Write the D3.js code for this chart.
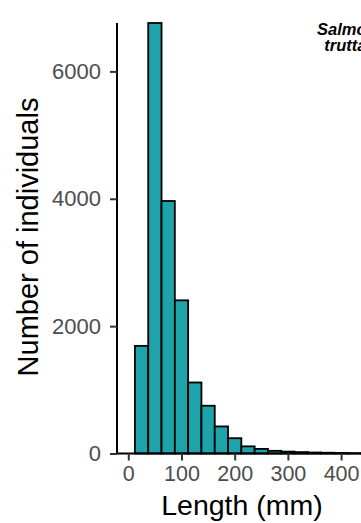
<!DOCTYPE html>
<html>
<head>
<meta charset="utf-8">
<script src="https://cdn.jsdelivr.net/npm/d3@7/dist/d3.min.js"></script>
<style>
  html, body { margin: 0; padding: 0; background: #fff; overflow: hidden; }
  svg { display: block; }
  text { font-family: "Liberation Sans", Arial, sans-serif; }
</style>
</head>
<body>
<svg id="chart" width="361" height="523"></svg>
<script>
// Length-frequency histogram, 25 mm bins
const binStart = [12.5, 37.5, 62.5, 87.5, 112.5, 137.5, 162.5, 187.5, 212.5, 237.5,
                  262.5, 287.5, 312.5, 337.5, 362.5, 387.5, 412.5, 437.5, 462.5];
const binWidth = 25;
const counts   = [1690, 6760, 3965, 2405, 1115, 750, 425, 240, 112, 72,
                  42, 30, 22, 16, 12, 8, 5, 3, 2];
const xTicks = [0, 100, 200, 300, 400];
const yTicks = [0, 2000, 4000, 6000];
const speciesLines = ["Salmo", "trutta"];

const svg = d3.select("#chart");
const W = 361, H = 523;

const x = d3.scaleLinear().domain([-21.2, 437.4]).range([117, 361]);
const y = d3.scaleLinear().domain([0, 6760]).range([453.5, 23]);

// bars
svg.append("g")
  .selectAll("rect")
  .data(counts)
  .join("rect")
  .attr("x", (d, i) => x(binStart[i]))
  .attr("width", (d, i) => x(binStart[i] + binWidth) - x(binStart[i]))
  .attr("y", d => y(d))
  .attr("height", d => y(0) - y(d))
  .attr("fill", "#1fa3ab")
  .attr("stroke", "#000")
  .attr("stroke-width", 1.8);

// y axis
const yAxis = svg.append("g")
  .attr("transform", `translate(${x.range()[0]},0)`)
  .call(d3.axisLeft(y).tickValues(yTicks).tickSize(7).tickPadding(9).tickFormat(d3.format("d")));
yAxis.select(".domain").attr("d", `M0,${y(0)}V${y.range()[1]}`).attr("stroke", "#000").attr("stroke-width", 2);
yAxis.selectAll(".tick line").attr("stroke", "#333").attr("stroke-width", 2);
yAxis.selectAll(".tick text").attr("fill", "#4d4d4d").attr("font-size", 22)
  .attr("font-family", "Liberation Sans, Arial, sans-serif");

// x axis
const xAxis = svg.append("g")
  .attr("transform", `translate(0,${y(0)})`)
  .call(d3.axisBottom(x).tickValues(xTicks).tickSize(7).tickPadding(5).tickFormat(d3.format("d")));
xAxis.select(".domain").attr("d", `M${x.range()[0]},0H${W + 5}`).attr("stroke", "#000").attr("stroke-width", 2);
xAxis.selectAll(".tick line").attr("stroke", "#333").attr("stroke-width", 2);
xAxis.selectAll(".tick text").attr("fill", "#4d4d4d").attr("font-size", 21.5)
  .attr("font-family", "Liberation Sans, Arial, sans-serif");

// axis titles
svg.append("text")
  .attr("x", 242).attr("y", 515)
  .attr("text-anchor", "middle")
  .attr("font-size", 28.5)
  .attr("fill", "#000")
  .text("Length (mm)");

svg.append("text")
  .attr("transform", "translate(38,237) rotate(-90)")
  .attr("text-anchor", "middle")
  .attr("font-size", 29)
  .attr("fill", "#000")
  .text("Number of individuals");

// species label
const lab = svg.append("text")
  .attr("text-anchor", "end")
  .attr("font-size", 16.5)
  .attr("font-style", "italic")
  .attr("font-weight", "bold")
  .attr("fill", "#000");
speciesLines.forEach((t, i) => {
  lab.append("tspan").attr("x", 366.5).attr("y", 35 + i * 15.5).text(t);
});
</script>
</body>
</html>
